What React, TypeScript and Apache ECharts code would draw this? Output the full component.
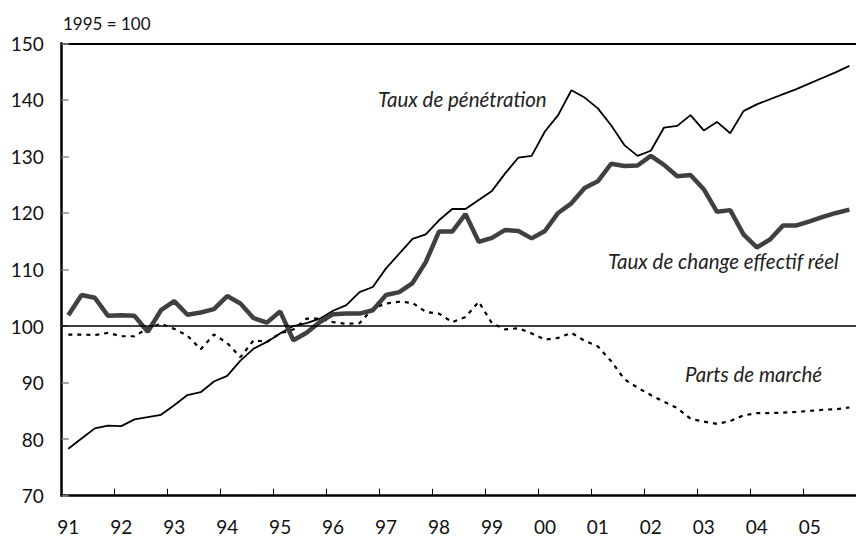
import React, { useEffect, useRef } from "react";
import * as echarts from "echarts";

const years = ["91", "92", "93", "94", "95", "96", "97", "98", "99", "00", "01", "02", "03", "04", "05"];
const quarters = ["T1", "T2", "T3", "T4"];
const categories = years.flatMap((y) => quarters.map((q) => `${y}${q}`));

const penetration = [
  78.3, 80.1, 81.9, 82.4, 82.3, 83.5, 83.9, 84.3, 86.0, 87.8, 88.3, 90.2,
  91.2, 93.9, 96.0, 97.2, 98.7, 100.0, 100.5, 101.3, 102.7, 103.7, 106.0, 106.9,
  110.2, 112.8, 115.4, 116.2, 118.7, 120.7, 120.7, 122.3, 123.9, 127.0, 129.8, 130.1,
  134.4, 137.3, 141.7, 140.4, 138.5, 135.5, 132.0, 130.1, 131.0, 135.1, 135.4, 137.3,
  134.6, 136.1, 134.1, 138.0, 139.2, 140.1, 141.0, 141.9, 142.9, 143.9, 144.9, 146.0,
];

const changeReel = [
  101.9, 105.5, 105.0, 101.8, 101.9, 101.8, 99.0, 102.8, 104.4, 102.0, 102.4, 103.0,
  105.3, 104.0, 101.4, 100.6, 102.6, 97.5, 98.8, 100.7, 102.1, 102.2, 102.2, 102.8,
  105.5, 106.0, 107.6, 111.3, 116.7, 116.7, 119.8, 114.9, 115.6, 117.0, 116.8, 115.5,
  116.8, 120.0, 121.7, 124.4, 125.6, 128.7, 128.3, 128.4, 130.1, 128.5, 126.5, 126.7,
  124.2, 120.2, 120.5, 116.2, 113.9, 115.3, 117.8, 117.8, 118.5, 119.3, 120.0, 120.6,
];

const partsMarche = [
  98.5, 98.5, 98.4, 98.8, 98.2, 98.2, 99.6, 100.4, 99.5, 98.3, 95.9, 98.5,
  97.0, 94.5, 97.5, 97.2, 98.7, 99.4, 101.3, 101.3, 100.7, 100.4, 100.5, 103.1,
  104.0, 104.3, 104.1, 102.5, 102.2, 100.7, 101.6, 104.3, 100.5, 99.4, 99.6, 98.7,
  97.6, 97.9, 98.8, 97.4, 96.4, 93.8, 90.6, 89.1, 87.8, 86.6, 85.5, 83.6,
  83.1, 82.7, 83.2, 84.2, 84.6, 84.6, 84.7, 84.8, 85.0, 85.2, 85.3, 85.6,
];

const FONT = "Lato, 'Open Sans', sans-serif";

export default function App() {
  const ref = useRef<HTMLDivElement>(null);

  useEffect(() => {
    if (!ref.current) return;
    const chart = echarts.init(ref.current, undefined, { renderer: "svg" });
    chart.setOption({
      animation: false,
      backgroundColor: "#fff",
      grid: { left: 61.7, top: 43.3, bottom: 41.3, right: -6 },
      xAxis: [
        {
          type: "category",
          data: categories,
          boundaryGap: true,
          position: "bottom",
          axisLine: { show: true, lineStyle: { color: "#000", width: 2.5 } },
          axisTick: { show: true, inside: true, length: 7, interval: 3, lineStyle: { color: "#000", width: 1 } },
          axisLabel: {
            interval: 3,
            margin: 24,
            lineHeight: 14,
            color: "#111",
            fontSize: 19,
            fontFamily: FONT,
            formatter: (v: string) => v.slice(0, 2),
          },
          splitLine: { show: false },
        },
        {
          type: "category",
          data: categories,
          position: "top",
          axisLine: { show: true, lineStyle: { color: "#000", width: 2 } },
          axisTick: { show: false },
          axisLabel: { show: false },
          splitLine: { show: false },
        },
      ],
      yAxis: {
        type: "value",
        min: 70,
        max: 150,
        interval: 10,
        axisLine: { show: true, lineStyle: { color: "#000", width: 2.5 } },
        axisTick: { show: true, inside: true, length: 7, lineStyle: { color: "#888", width: 1.5 } },
        axisLabel: { color: "#111", fontSize: 19, fontFamily: FONT, margin: 18 },
        splitLine: { show: false },
      },
      graphic: [
        {
          type: "text",
          x: 63,
          y: 23,
          style: { text: "1995 = 100", fontSize: 17, fontFamily: FONT, fill: "#111", verticalAlign: "middle", align: "left" },
        },
        {
          type: "text",
          x: 378,
          y: 99,
          style: { text: "Taux de pénétration", fontSize: 20.5, fontStyle: "italic", fontFamily: FONT, fill: "#222", verticalAlign: "middle", align: "left" },
        },
        {
          type: "text",
          x: 608,
          y: 261,
          style: { text: "Taux de change effectif réel", fontSize: 20.5, fontStyle: "italic", fontFamily: FONT, fill: "#222", verticalAlign: "middle", align: "left" },
        },
        {
          type: "text",
          x: 685,
          y: 374,
          style: { text: "Parts de marché", fontSize: 20.5, fontStyle: "italic", fontFamily: FONT, fill: "#222", verticalAlign: "middle", align: "left" },
        },
      ],
      series: [
        {
          name: "Parts de marché",
          type: "line",
          data: partsMarche,
          symbol: "none",
          lineStyle: { color: "#000", width: 2.2, type: [4, 5] },
          markLine: {
            silent: true,
            symbol: ["none", "none"],
            label: { show: false },
            lineStyle: { color: "#000", width: 1.5, type: "solid" },
            data: [{ yAxis: 100 }],
          },
        },
        {
          name: "Taux de pénétration",
          type: "line",
          data: penetration,
          symbol: "none",
          lineStyle: { color: "#000", width: 1.8 },
        },
        {
          name: "Taux de change effectif réel",
          type: "line",
          data: changeReel,
          symbol: "none",
          lineStyle: { color: "#404040", width: 4.5 },
        },
      ],
    });
    return () => chart.dispose();
  }, []);

  return <div ref={ref} style={{ position: "absolute", left: 0, top: 0, width: 856, height: 537 }} />;
}
